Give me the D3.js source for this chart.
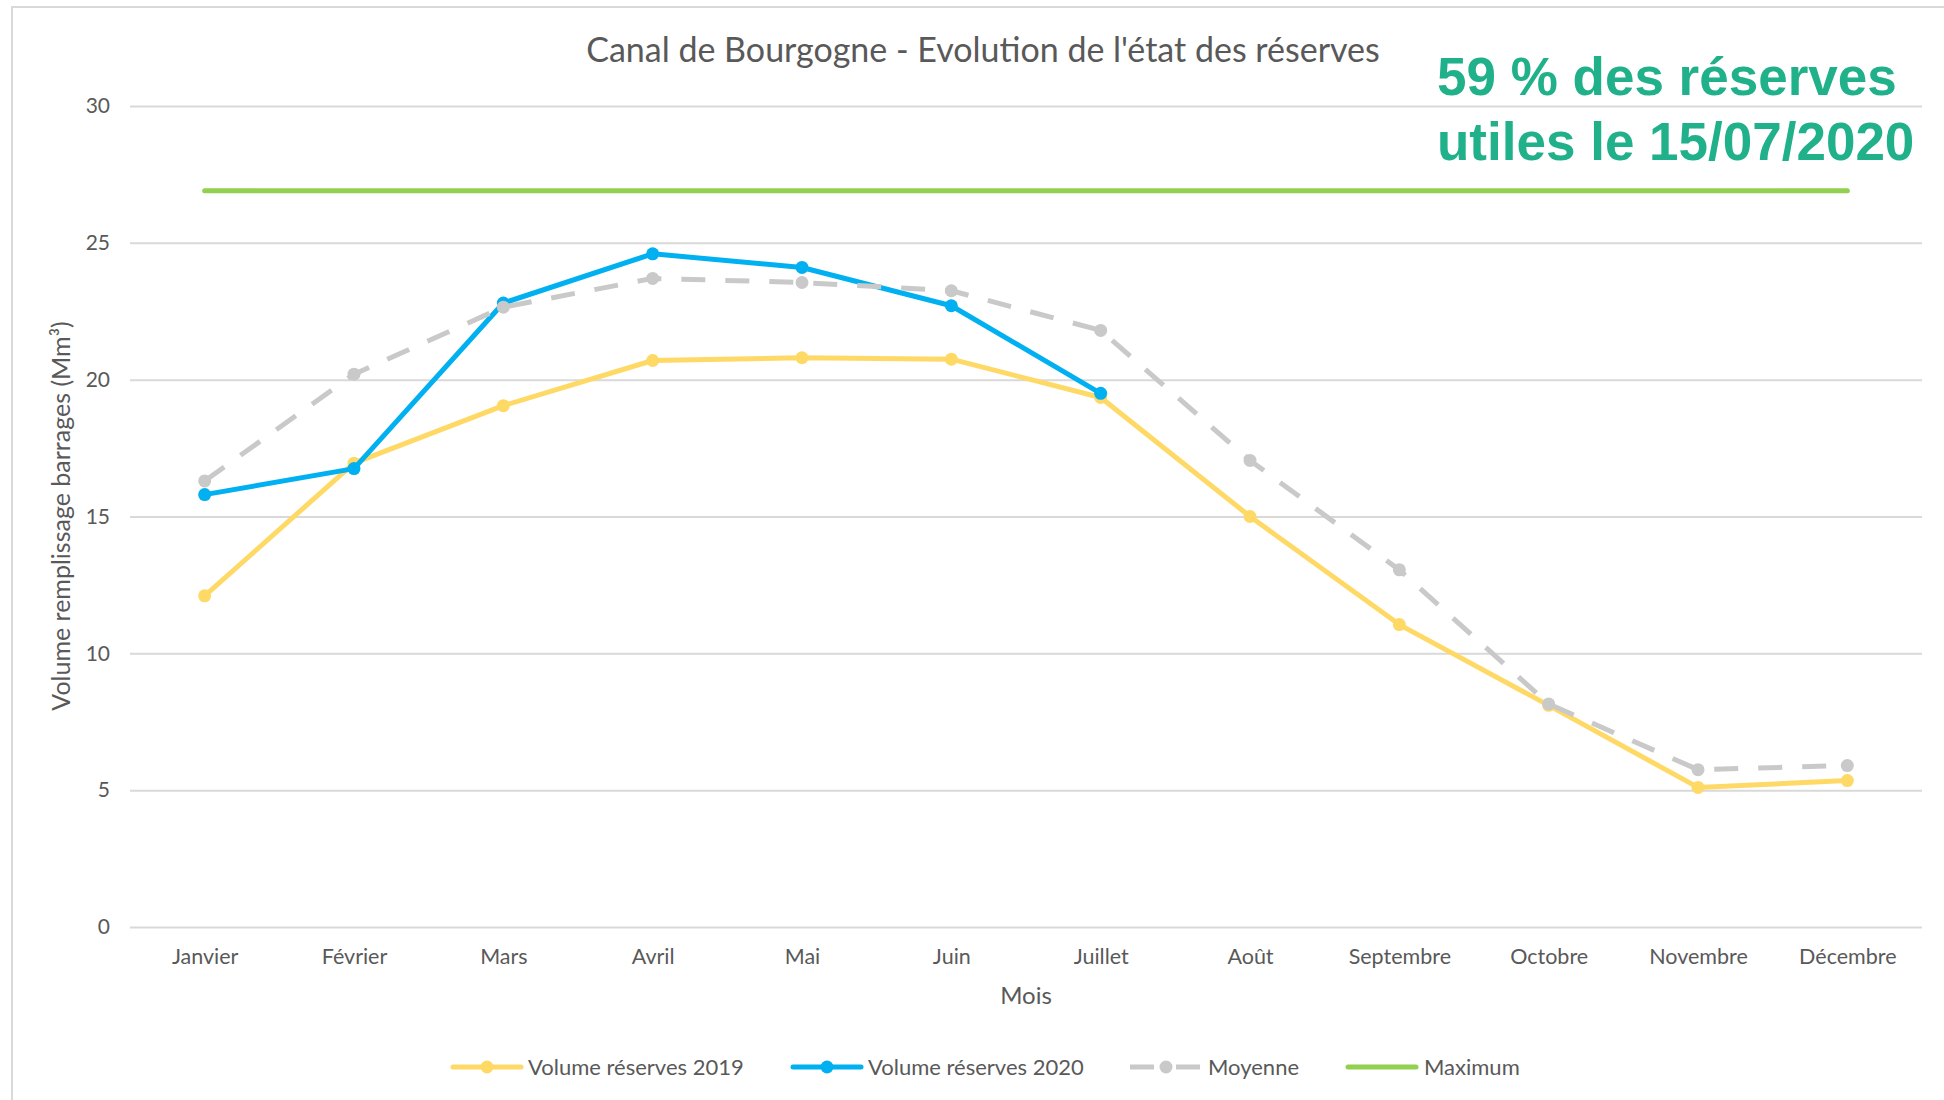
<!DOCTYPE html>
<html><head><meta charset="utf-8">
<script src="https://cdn.jsdelivr.net/npm/d3@7"></script>
<style>
html,body{margin:0;padding:0;background:#fff;}
svg{display:block;}
</style></head>
<body>
<svg id="chart" width="1944" height="1100"></svg>
<script>
const months = ["Janvier","Février","Mars","Avril","Mai","Juin","Juillet","Août","Septembre","Octobre","Novembre","Décembre"];
const vol2019 = [12.1, 16.95, 19.05, 20.7, 20.8, 20.75, 19.35, 15.0, 11.05, 8.1, 5.1, 5.35];
const vol2020 = [15.8, 16.75, 22.8, 24.6, 24.1, 22.7, 19.5, null, null, null, null, null];
const moyenne = [16.3, 20.2, 22.65, 23.7, 23.55, 23.25, 21.8, 17.05, 13.05, 8.15, 5.75, 5.9];
const maximum = [26.9, 26.9, 26.9, 26.9, 26.9, 26.9, 26.9, 26.9, 26.9, 26.9, 26.9, 26.9];
const yTicks = [0, 5, 10, 15, 20, 25, 30];
const seriesNames = ["Volume réserves 2019", "Volume réserves 2020", "Moyenne", "Maximum"];
const titleText = "Canal de Bourgogne - Evolution de l'état des réserves";
const yTitle = "Volume remplissage barrages (Mm³)";
const xTitle = "Mois";
const annotation = ["59 % des réserves", "utiles le 15/07/2020"];

const LATO = "Lato, 'Open Sans', sans-serif";
const svg = d3.select("#chart");
const x = d3.scalePoint().domain(months).range([130, 1922]).padding(0.5);
const y = d3.scaleLinear().domain([0, 30]).range([927, 106]);

// chart border
svg.append("rect").attr("x", 12).attr("y", 7).attr("width", 1960).attr("height", 1120)
  .attr("fill", "none").attr("stroke", "#d9d9d9").attr("stroke-width", 2);

// gridlines + y labels
const yAxis = d3.axisLeft(y).tickValues(yTicks).tickSize(-(1922 - 130)).tickPadding(20);
const gy = svg.append("g").attr("transform", "translate(130,0)").call(yAxis);
gy.select(".domain").remove();
gy.selectAll(".tick line").attr("stroke", "#d9d9d9").attr("stroke-width", 2);
gy.selectAll(".tick text").attr("fill", "#595959").style("font-size", "21px").style("font-family", LATO);

// x labels
const xAxis = d3.axisBottom(x).tickSize(0).tickPadding(22);
const gx = svg.append("g").attr("transform", "translate(0,927)").call(xAxis);
gx.select(".domain").remove();
gx.selectAll(".tick text").attr("fill", "#595959").style("font-size", "21.5px").style("font-family", LATO);

// titles
svg.append("text").attr("x", 983).attr("y", 62).attr("text-anchor", "middle")
  .style("font-family", LATO).style("font-size", "34px").attr("fill", "#595959").text(titleText);
svg.append("text").attr("transform", "translate(70,516) rotate(-90)").attr("text-anchor", "middle")
  .style("font-family", LATO).style("font-size", "25px").attr("fill", "#595959").text(yTitle);
svg.append("text").attr("x", 1026).attr("y", 1004).attr("text-anchor", "middle")
  .style("font-family", LATO).style("font-size", "24px").attr("fill", "#595959").text(xTitle);

// series
const series = [
  {name: seriesNames[0], data: vol2019, color: "#FFD966", dash: null, marker: true},
  {name: seriesNames[1], data: vol2020, color: "#00B0F0", dash: null, marker: true},
  {name: seriesNames[2], data: moyenne, color: "#C9C9C9", dash: "24 20", marker: true},
  {name: seriesNames[3], data: maximum, color: "#92D050", dash: null, marker: false}
];
const line = d3.line().defined(d => d.v != null).x(d => x(d.m)).y(d => y(d.v));
series.forEach(s => {
  const pts = months.map((m, i) => ({m, v: s.data[i]}));
  svg.append("path").datum(pts).attr("d", line).attr("fill", "none")
    .attr("stroke", s.color).attr("stroke-width", 5)
    .attr("stroke-linejoin", "round").attr("stroke-linecap", s.dash ? "butt" : "round")
    .attr("stroke-dasharray", s.dash);
  if (s.marker) {
    svg.append("g").selectAll("circle").data(pts.filter(d => d.v != null)).join("circle")
      .attr("cx", d => x(d.m)).attr("cy", d => y(d.v)).attr("r", 6.5).attr("fill", s.color);
  }
});

// annotation
annotation.forEach((t, i) => {
  svg.append("text").attr("x", 1437).attr("y", 95 + i * 65)
    .style("font-family", "'Liberation Sans', Arial, sans-serif").style("font-weight", "bold")
    .style("font-size", "53px").attr("fill", "#20B08A").text(t);
});

// legend
const legendItems = [
  {x0: 451, tx: 528},
  {x0: 791, tx: 868},
  {x0: 1130, tx: 1208},
  {x0: 1346, tx: 1424}
];
const ly = 1067;
series.forEach((s, i) => {
  const it = legendItems[i];
  const g = svg.append("g");
  if (s.dash) {
    g.append("line").attr("x1", it.x0).attr("x2", it.x0 + 24).attr("y1", ly).attr("y2", ly)
      .attr("stroke", s.color).attr("stroke-width", 5);
    g.append("line").attr("x1", it.x0 + 46).attr("x2", it.x0 + 70).attr("y1", ly).attr("y2", ly)
      .attr("stroke", s.color).attr("stroke-width", 5);
  } else {
    g.append("line").attr("x1", it.x0 + 2).attr("x2", it.x0 + 70).attr("y1", ly).attr("y2", ly)
      .attr("stroke", s.color).attr("stroke-width", 5).attr("stroke-linecap", "round");
  }
  if (s.marker) g.append("circle").attr("cx", it.x0 + 36).attr("cy", ly).attr("r", 6.5).attr("fill", s.color);
  g.append("text").attr("x", it.tx).attr("y", ly + 8).style("font-family", LATO).style("font-size", "22px")
    .attr("fill", "#595959").text(s.name);
});
</script>
</body></html>
